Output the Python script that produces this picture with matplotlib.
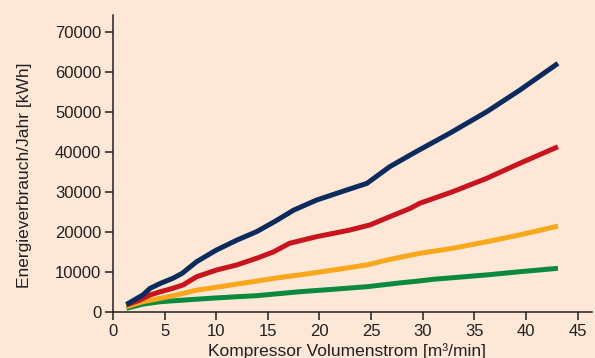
import matplotlib
matplotlib.use("Agg")
import matplotlib.pyplot as plt

# Data
navy_x = [1.3, 2.3, 2.9, 3.6, 4.6, 5.8, 6.7, 8.1, 10.0, 12.0, 13.9, 15.7, 17.5, 19.7,
          22.6, 24.6, 26.8, 28.8, 29.7, 32.6, 36.2, 39.4, 43.1]
navy_y = [1800, 3300, 4200, 5850, 7100, 8350, 9600, 12500, 15400, 17900, 20000, 22600,
          25400, 27900, 30400, 32100, 36250, 39200, 40500, 44600, 50000, 55400, 62100]

red_x = [1.3, 2.6, 3.6, 4.6, 5.8, 6.8, 8.1, 10.0, 12.0, 13.9, 15.5, 17.1, 19.7, 22.9,
         24.9, 26.8, 28.8, 29.7, 32.9, 36.2, 39.4, 43.1]
red_y = [1700, 2900, 4200, 5000, 5850, 6700, 8750, 10400, 11700, 13350, 14900, 17100,
         18750, 20400, 21700, 23750, 25850, 27100, 30000, 33350, 37100, 41250]

orange_x = [1.3, 2.9, 4.6, 6.2, 8.1, 10.0, 12.0, 13.9, 16.0, 18.1, 21.3, 24.6, 26.5,
            29.7, 32.9, 36.2, 39.4, 43.1]
orange_y = [1250, 2500, 3350, 4200, 5400, 6100, 6900, 7650, 8500, 9200, 10400, 11700,
            12900, 14600, 15850, 17500, 19200, 21400]

green_x = [1.3, 2.9, 4.6, 6.8, 9.4, 12.0, 13.9, 18.1, 21.3, 24.6, 27.8, 29.7, 31.0,
           32.9, 36.2, 39.4, 43.1]
green_y = [850, 1900, 2500, 2900, 3350, 3750, 4000, 5000, 5600, 6250, 7200, 7700, 8100,
           8500, 9200, 10000, 10850]

x_ticks = [0, 5, 10, 15, 20, 25, 30, 35, 40, 45]
y_ticks = [0, 10000, 20000, 30000, 40000, 50000, 60000, 70000]
x_label = "Kompressor Volumenstrom [m³/min]"
y_label = "Energieverbrauch/Jahr [kWh]"

bg = "#fde8d7"
plt.rcParams['font.family'] = ['Liberation Sans', 'DejaVu Sans']

fig = plt.figure(figsize=(5.95, 3.58), dpi=100, facecolor=bg)
ax = fig.add_axes([113/595, 1 - 311.7/358, (592-113)/595, (311.7-15)/358])
ax.set_facecolor(bg)

lw = 3.6
style = dict(lw=lw, solid_capstyle='butt', solid_joinstyle='round')
ax.plot(green_x, green_y, color="#0a8a3f", **style)
ax.plot(orange_x, orange_y, color="#f9a71c", **style)
ax.plot(red_x, red_y, color="#c8141f", **style)
ax.plot(navy_x, navy_y, color="#0b2b5e", **style)

ax.set_xlim(0, 46.4)
ax.set_ylim(0, 74200)
ax.set_xticks(x_ticks)
ax.set_yticks(y_ticks)
ax.set_xticklabels([str(t) for t in x_ticks])
ax.set_yticklabels([str(t) for t in y_ticks])

for s in ['top', 'right']:
    ax.spines[s].set_visible(False)
for s in ['left', 'bottom']:
    ax.spines[s].set_color('#231f20')
    ax.spines[s].set_linewidth(1.1)

ax.tick_params(axis='both', direction='out', length=5.5, width=1.1, color='#231f20',
               labelsize=12, labelcolor='#231f20', pad=3)

ax.set_xlabel(x_label, fontsize=12.5, color='#231f20')
ax.xaxis.set_label_coords(0.4875, -0.105)
ax.xaxis.label.set_va('top')
ax.set_ylabel(y_label, fontsize=12.5, color='#231f20')
ax.yaxis.set_label_coords(-0.184, 0.461)
ax.yaxis.label.set_va('center')

fig.savefig("out.png", dpi=100, facecolor=bg)
